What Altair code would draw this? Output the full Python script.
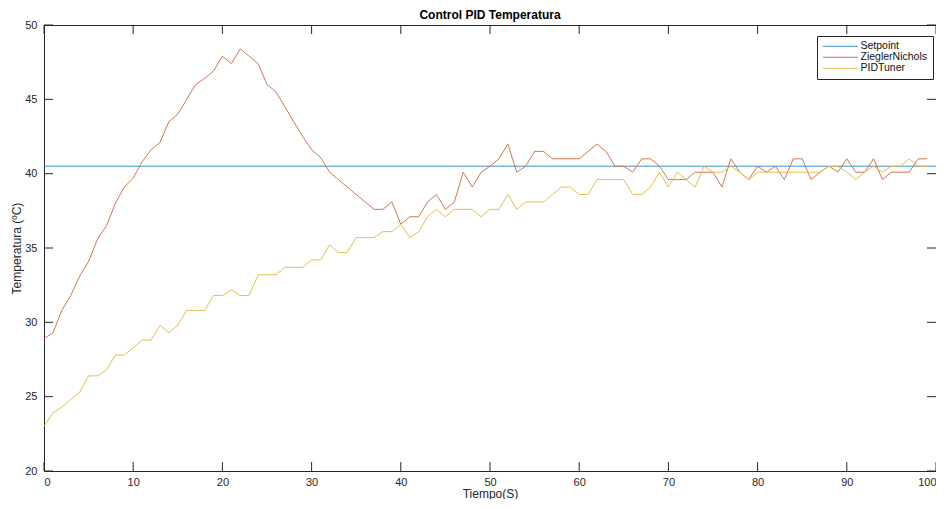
import altair as alt
import pandas as pd

# ---------------- data ----------------
t_values = list(range(100))

zn_values = [
    28.9, 29.3, 30.8, 31.8, 33.1, 34.1, 35.6, 36.5, 38.0, 39.1,
    39.7, 40.8, 41.6, 42.1, 43.5, 44.0, 45.0, 46.0, 46.4, 46.9,
    47.9, 47.4, 48.4, 47.9, 47.4, 46.0, 45.5, 44.5, 43.5, 42.5,
    41.6, 41.1, 40.1, 39.6, 39.1, 38.6, 38.1, 37.6, 37.6, 38.1,
    36.6, 37.1, 37.1, 38.1, 38.6, 37.6, 38.1, 40.1, 39.1, 40.1,
    40.5, 41.0, 42.0, 40.1, 40.5, 41.5, 41.5, 41.0, 41.0, 41.0,
    41.0, 41.5, 42.0, 41.5, 40.5, 40.5, 40.1, 41.0, 41.0, 40.5,
    39.6, 39.6, 39.6, 40.1, 40.1, 40.1, 39.1, 41.0, 40.1, 39.6,
    40.5, 40.1, 40.5, 39.6, 41.0, 41.0, 39.6, 40.1, 40.5, 40.1,
    41.0, 40.1, 40.1, 41.0, 39.6, 40.1, 40.1, 40.1, 41.0, 41.0,
]

pid_values = [
    23.0, 23.9, 24.3, 24.8, 25.3, 26.4, 26.4, 26.8, 27.8, 27.8,
    28.3, 28.8, 28.8, 29.8, 29.3, 29.8, 30.8, 30.8, 30.8, 31.8,
    31.8, 32.2, 31.8, 31.8, 33.2, 33.2, 33.2, 33.7, 33.7, 33.7,
    34.2, 34.2, 35.2, 34.7, 34.7, 35.7, 35.7, 35.7, 36.1, 36.1,
    36.6, 35.7, 36.1, 37.1, 37.6, 37.1, 37.6, 37.6, 37.6, 37.1,
    37.6, 37.6, 38.6, 37.6, 38.1, 38.1, 38.1, 38.6, 39.1, 39.1,
    38.6, 38.6, 39.6, 39.6, 39.6, 39.6, 38.6, 38.6, 39.1, 40.1,
    39.1, 40.1, 39.6, 39.1, 40.5, 40.1, 40.1, 40.5, 40.1, 39.6,
    40.1, 40.1, 40.1, 40.1, 40.1, 40.1, 40.1, 40.1, 40.5, 40.5,
    40.1, 39.6, 40.1, 40.5, 40.1, 40.5, 40.5, 41.0, 40.5, 40.5,
]

setpoint_t = [0, 100]
setpoint_values = [40.5, 40.5]

series_names = ["Setpoint", "ZieglerNichols", "PIDTuner"]
series_colors = ["#3a95cc", "#cf7650", "#e8bc4c"]

x_ticks = list(range(0, 101, 10))
y_ticks = list(range(20, 51, 5))

# ---------------- tables ----------------
df = pd.concat([
    pd.DataFrame({"t": setpoint_t, "v": setpoint_values, "serie": series_names[0]}),
    pd.DataFrame({"t": t_values, "v": zn_values, "serie": series_names[1]}),
    pd.DataFrame({"t": t_values, "v": pid_values, "serie": series_names[2]}),
], ignore_index=True)
df["order"] = df["serie"].map({n: i for i, n in enumerate(series_names)})

xt = pd.DataFrame({"t": x_ticks})
yt = pd.DataFrame({"v": y_ticks})

W, H = 892, 446
FONT = "Liberation Sans"
AX = "#262626"

x_scale = alt.Scale(domain=[0, 100], nice=False, zero=False)
y_scale = alt.Scale(domain=[20, 50], nice=False, zero=False)

x_axis = alt.Axis(title="Tiempo(S)", values=x_ticks, ticks=False, domain=False,
                  grid=False, labelPadding=5, titlePadding=1)
y_axis = alt.Axis(title="Temperatura (ºC)", values=y_ticks, ticks=False, domain=False,
                  grid=False, labelPadding=7, titlePadding=1)

lines = alt.Chart(df).mark_line(strokeWidth=1).encode(
    x=alt.X("t:Q", scale=x_scale, axis=x_axis),
    y=alt.Y("v:Q", scale=y_scale, axis=y_axis),
    color=alt.Color("serie:N",
                    scale=alt.Scale(domain=series_names, range=series_colors),
                    sort=series_names,
                    legend=alt.Legend(title=None, orient="none", legendX=773, legendY=11,
                                      symbolType="M-1,0H7", symbolSize=77,
                                      symbolStrokeWidth=1, symbolFillColor="transparent",
                                      labelFontSize=10.5, labelFont=FONT,
                                      labelColor="#111111", labelOffset=28,
                                      rowPadding=-2.5, padding=5,
                                      fillColor="white", strokeColor=AX)),
    detail="serie:N",
    order="order:Q",
)

bottom_ticks = alt.Chart(xt).mark_rule(color=AX, strokeWidth=1).encode(
    x=alt.X("t:Q", scale=x_scale, axis=x_axis), y=alt.value(H), y2=alt.value(H - 9))
top_ticks = alt.Chart(xt).mark_rule(color=AX, strokeWidth=1).encode(
    x=alt.X("t:Q", scale=x_scale, axis=x_axis), y=alt.value(0), y2=alt.value(9))
left_ticks = alt.Chart(yt).mark_rule(color=AX, strokeWidth=1).encode(
    y=alt.Y("v:Q", scale=y_scale, axis=y_axis), x=alt.value(0), x2=alt.value(9))
right_ticks = alt.Chart(yt).mark_rule(color=AX, strokeWidth=1).encode(
    y=alt.Y("v:Q", scale=y_scale, axis=y_axis), x=alt.value(W), x2=alt.value(W - 9))

chart = alt.layer(lines, bottom_ticks, top_ticks, left_ticks, right_ticks).properties(
    width=W,
    height=H,
    title=alt.TitleParams("Control PID Temperatura", font=FONT, fontSize=12,
                          fontWeight="bold", color="#000000", offset=5, dy=8,
                          anchor="middle"),
    autosize=alt.AutoSizeParams(type="none"),
    padding={"left": 36, "top": 17, "right": 0, "bottom": 28},
).configure_view(
    stroke=AX, strokeWidth=1
).configure_axis(
    labelFont=FONT, labelFontSize=11, labelColor=AX,
    titleFont=FONT, titleFontSize=12, titleColor=AX, titleFontWeight="normal",
)

chart.save("out.html", embed_options={"renderer": "svg", "actions": False})
